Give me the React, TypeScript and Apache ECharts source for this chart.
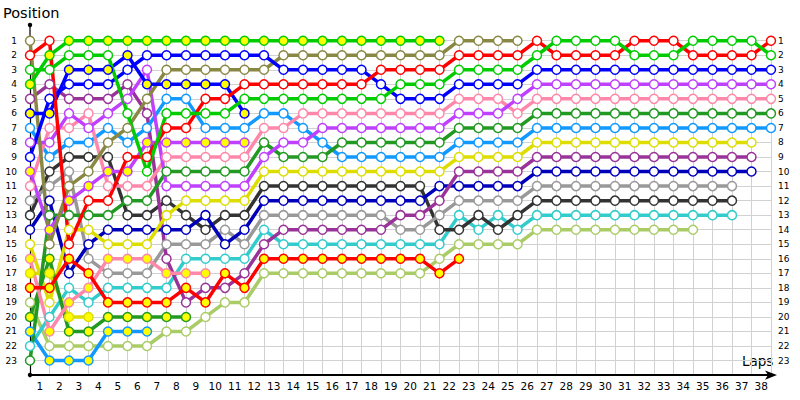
import React, { useEffect, useRef } from "react";
import * as echarts from "echarts";

// Lap labels on the x axis (between grid lines)
const lapLabels = ["1","2","3","4","5","6","7","8","9","10","11","12","13","14","15","16","17","18","19","20","21","22","23","24","25","26","27","28","29","30","31","32","33","34","35","36","37","38"];
const positionLabels = ["1","2","3","4","5","6","7","8","9","10","11","12","13","14","15","16","17","18","19","20","21","22","23"];

// Position of each driver at lap 0 (grid) .. last lap completed
const redA = [2,1,15,12,12,9,9,7,7,5,5,4,4,4,4,4,4,4,3,3,3,3,2,2,2,2,1,2,2,2,2,1,1,1,2,2,2,2,1];
const redB = [18,18,16,17,19,19,19,19,18,19,17,18,16,16,16,16,16,16,16,16,16,17,16];
const greenA = [3,3,2,2,2,6,10,6,6,6,6,5,5,5,5,5,5,5,5,4,4,4,3,3,3,3,2,1,1,1,1,2,2,2,1,1,1,1,2];
const greenB = [4,2,1,1,1,1,1,1,1,1,1,1,1,1,1,1,1,1,1,1,1,1];
const blueA = [9,5,4,4,4,3,2,2,2,2,2,2,2,3,3,3,3,3,4,5,5,5,4,4,4,4,3,3,3,3,3,3,3,3,3,3,3,3,3];
const blueB = [6,6,3,3,3,2,4,4,4,4,4,6];
const olive = [1,15,11,10,8,7,5,3,3,3,3,3,3,2,2,2,2,2,2,2,2,2,1,1,1,1];
const purple = [5,4,5,5,5,4,6,16,19,18,18,17,15,14,14,14,14,14,14,13,13,12,10,10,10,10,9,9,9,9,9,9,9,9,9,9,9,9];
const violetA = [8,8,6,7,6,5,3,11,11,11,11,11,9,8,8,7,7,7,7,7,7,7,6,6,6,5,4,4,4,4,4,4,4,4,4,4,4,4,4];
const violetB = [10,14,12,11,10,10,8,8,8,8,8,8];
const pinkA = [11,7,7,6,11,11,11,9,9,9,9,9,7,7,6,6,6,6,6,6,6,6,5,5,5,6,5,5,5,5,5,5,5,5,5,5,5,5,5];
const pinkB = [16,21,19,18,16,16,16,17,17,17];
const dkGreenA = [23,13,13,13,13,12,12,10,10,10,10,10,8,9,9,9,8,8,8,8,8,8,7,7,7,7,6,6,6,6,6,6,6,6,6,6,6,6,6];
const dkGreenB = [20,16,21,21,20,20,20,20,20];
const ltBlueA = [7,9,8,8,7,8,7,5,5,7,7,7,6,6,7,8,9,9,9,9,9,9,8,8,8,8,7,7,7,7,7,7,7,7,7,7,7,7,7];
const ltBlueB = [21,23,23,23,21,21,21];
const yellowA = [15,19,14,14,15,15,15,13,12,12,12,12,10,10,10,10,10,10,10,10,10,10,9,9,9,9,8,8,8,8,8,8,8,8,8,8,8,8];
const yellowB = [17,17,20,20];
const dkBlue = [14,12,17,15,14,14,14,14,14,13,15,14,12,12,12,12,12,12,12,12,12,11,11,11,11,11,10,10,10,10,10,10,10,10,10,10,10,10];
const grey = [12,11,10,16,17,17,17,15,15,15,14,15,13,13,13,13,13,13,13,14,14,13,12,12,12,12,11,11,11,11,11,11,11,11,11,11,11];
const dkGrey = [13,10,9,9,9,13,13,12,13,14,13,13,11,11,11,11,11,11,11,11,11,14,14,13,14,13,12,12,12,12,12,12,12,12,12,12,12];
const cyan = [22,20,18,19,18,18,18,18,16,16,16,16,14,15,15,15,15,15,15,15,15,15,13,14,13,14,13,13,13,13,13,13,13,13,13,13,13];
const ltGreen = [19,22,22,22,22,22,22,21,21,20,19,19,17,17,17,17,17,17,17,17,17,16,15,15,15,15,14,14,14,14,14,14,14,14,14];

const WHITE = "#ffffff";
const YEL = "#ffff00";

const drivers = [
  { name: "ltGreen", pos: ltGreen, color: "#aacc66", fill: WHITE },
  { name: "cyan", pos: cyan, color: "#33cccc", fill: WHITE },
  { name: "dkGrey", pos: dkGrey, color: "#333333", fill: WHITE },
  { name: "grey", pos: grey, color: "#999999", fill: WHITE },
  { name: "dkBlue", pos: dkBlue, color: "#0000bb", fill: WHITE },
  { name: "purple", pos: purple, color: "#993399", fill: WHITE },
  { name: "yellowB", pos: yellowB, color: "#dddd00", fill: YEL },
  { name: "yellowA", pos: yellowA, color: "#dddd00", fill: WHITE },
  { name: "ltBlueB", pos: ltBlueB, color: "#1199ff", fill: YEL },
  { name: "ltBlueA", pos: ltBlueA, color: "#1199ff", fill: WHITE },
  { name: "dkGreenB", pos: dkGreenB, color: "#229922", fill: YEL },
  { name: "dkGreenA", pos: dkGreenA, color: "#229922", fill: WHITE },
  { name: "pinkB", pos: pinkB, color: "#ff88aa", fill: YEL },
  { name: "pinkA", pos: pinkA, color: "#ff88aa", fill: WHITE },
  { name: "violetB", pos: violetB, color: "#c040ff", fill: YEL },
  { name: "violetA", pos: violetA, color: "#c040ff", fill: WHITE },
  { name: "olive", pos: olive, color: "#888844", fill: WHITE },
  { name: "blueB", pos: blueB, color: "#0000ff", fill: YEL },
  { name: "blueA", pos: blueA, color: "#0000ff", fill: WHITE },
  { name: "redB", pos: redB, color: "#ff0000", fill: YEL },
  { name: "greenB", pos: greenB, color: "#00cc00", fill: YEL },
  { name: "redA", pos: redA, color: "#ff0000", fill: WHITE },
  { name: "greenA", pos: greenA, color: "#00cc00", fill: WHITE },
];

const FONT = "DejaVu Sans";

export default function App() {
  const ref = useRef<HTMLDivElement>(null);
  useEffect(() => {
    if (!ref.current) return;
    const chart = echarts.init(ref.current, undefined, { renderer: "svg" });
    const posFmt = (v: number) => (v >= 1 && v <= 23 ? positionLabels[v - 1] : "");
    chart.setOption({
      animation: false,
      backgroundColor: "#ffffff",
      title: {
        text: "Position",
        left: 3,
        top: 5,
        padding: 0,
        textStyle: { fontFamily: FONT, fontSize: 14.5, fontWeight: "normal", color: "#000" },
      },
      grid: { left: 30, right: 29, top: 40.7, bottom: 24.9, containLabel: false },
      xAxis: [
        {
          type: "value",
          min: 0,
          max: 38,
          interval: 1,
          axisLine: {
            show: true,
            lineStyle: { color: "#000", width: 2 },
            symbol: ["none", "arrow"],
            symbolSize: [7, 12],
            symbolOffset: [0, 6],
          },
          axisTick: { show: false },
          axisLabel: { show: false },
          splitLine: { show: true, lineStyle: { color: "#d2d2d2", width: 1 } },
        },
        {
          type: "category",
          data: lapLabels,
          boundaryGap: true,
          position: "bottom",
          axisLine: { show: false },
          axisTick: { show: false },
          splitLine: { show: false },
          axisLabel: { fontFamily: FONT, fontSize: 10.5, color: "#000", margin: 5, interval: 0 },
        },
      ],
      yAxis: [
        {
          type: "value",
          min: 1,
          max: 24,
          interval: 1,
          inverse: true,
          axisLine: { show: true, lineStyle: { color: "#000", width: 1.2 } },
          axisTick: { show: false },
          axisLabel: { fontFamily: FONT, fontSize: 9, color: "#000", margin: 13, formatter: posFmt },
          splitLine: { show: true, lineStyle: { color: "#d2d2d2", width: 1 } },
        },
        {
          type: "value",
          min: 1,
          max: 24,
          interval: 1,
          inverse: true,
          position: "right",
          axisLine: { show: false },
          axisTick: { show: false },
          axisLabel: { fontFamily: FONT, fontSize: 9, color: "#000", margin: 7, formatter: posFmt },
          splitLine: { show: false },
        },
      ],
      graphic: [
        { type: "line", shape: { x1: 30, y1: 25, x2: 30, y2: 41 }, style: { stroke: "#000", lineWidth: 1.2 } },
        { type: "circle", shape: { cx: 30, cy: 25, r: 2.2 }, style: { fill: "#000" } },
        { type: "circle", shape: { cx: 30, cy: 375, r: 2.2 }, style: { fill: "#000" } },
        {
          type: "text",
          left: 742,
          top: 354,
          style: { text: "Laps", fontFamily: FONT, fontSize: 13.5, fill: "#000" },
        },
      ],
      series: drivers.map((d) => ({
        name: d.name,
        type: "line",
        xAxisIndex: 0,
        yAxisIndex: 0,
        data: d.pos.map((p, i) => [i, p]),
        symbol: "circle",
        symbolSize: 9,
        showAllSymbol: true,
        silent: true,
        lineStyle: { color: d.color, width: 3.5 },
        itemStyle: { color: d.fill, borderColor: d.color, borderWidth: 1.5 },
      })),
    });
    return () => chart.dispose();
  }, []);
  return <div ref={ref} style={{ width: 800, height: 400, position: "absolute", left: 0, top: 0 }} />;
}
